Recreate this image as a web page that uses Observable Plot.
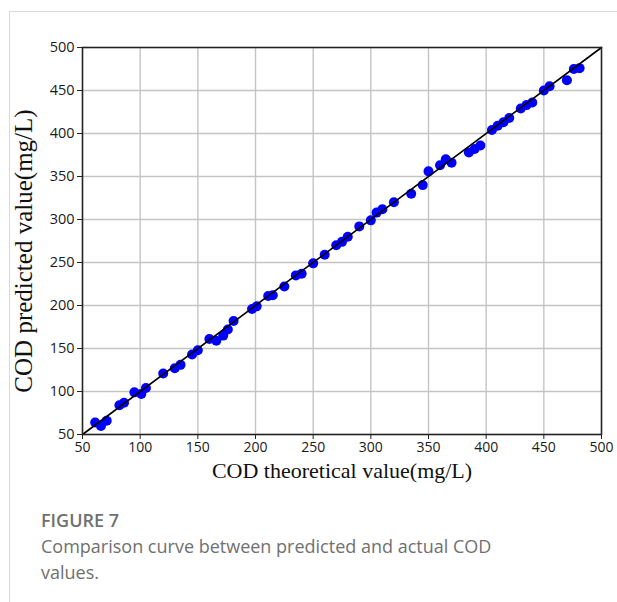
<!DOCTYPE html>
<html>
<head>
<meta charset="utf-8">
<script src="https://cdn.jsdelivr.net/npm/d3@7"></script>
<script src="https://cdn.jsdelivr.net/npm/@observablehq/plot@0.6"></script>
<style>
  html, body { margin: 0; padding: 0; background: #fff; }
  body { width: 617px; height: 602px; position: relative; overflow: hidden; }
  .card { position: absolute; left: 9px; top: 11px; right: 0; bottom: 0;
          border-left: 1px solid #d9d9d9; border-top: 1px solid #d9d9d9; z-index: 2; pointer-events: none; }
  #chart { position: absolute; left: 0; top: 0; z-index: 1; }
  .caption { position: absolute; left: 41px; top: 507px; width: 480px;
             font-family: "Open Sans", "Noto Sans", sans-serif; font-size: 18px;
             line-height: 26px; color: #707070; }
  .caption .fig { font-weight: 600; }
</style>
</head>
<body>
<div id="chart"></div>
<div class="card"></div>
<div class="caption">
  <div class="fig">FIGURE 7</div>
  <div>Comparison curve between predicted and actual COD values.</div>
</div>
<script>
const theoretical = [61,66,71,82,86,95,101,105,120,130,135,145,150,160,166,172,176,181,197,201,211,215,225,235,240,250,260,270,275,280,290,300,305,310,320,335,345,350,360,365,370,385,390,395,405,410,415,420,430,435,440,450,455,470,476,481];
const predicted   = [64,60,66,84,87,99,97,104,121,127,131,143,148,161,159,165,172,182,196,199,211,212,222,235,237,249,259,270,274,280,292,299,308,312,320,330,340,356,363,370,366,378,382,386,404,409,413,418,429,433,436,450,455,462,475,476];
const xTicks = [50,100,150,200,250,300,350,400,450,500];
const yTicks = [50,100,150,200,250,300,350,400,450,500];
const diagonal = [50, 500];
const xLabel = "COD theoretical value(mg/L)";
const yLabel = "COD predicted value(mg/L)";

const points = theoretical.map((t, i) => ({t, p: predicted[i]}));

const chart = Plot.plot({
  width: 617,
  height: 490,
  marginLeft: 82,
  marginRight: 16,
  marginTop: 47,
  marginBottom: 56,
  style: {background: "transparent", fontFamily: "'Open Sans', sans-serif", fontSize: "14px", color: "#1a1a1a"},
  x: {domain: [50, 500]},
  y: {domain: [50, 500]},
  marks: [
    Plot.gridX(xTicks, {stroke: "#c4c4c4", strokeOpacity: 1, strokeWidth: 1.4}),
    Plot.gridY(yTicks, {stroke: "#c4c4c4", strokeOpacity: 1, strokeWidth: 1.4}),
    Plot.dot(points, {x: "t", y: "p", r: 5, fill: "#0000ff", stroke: "none"}),
    Plot.line(diagonal, {x: d => d, y: d => d, stroke: "#000", strokeWidth: 1.6}),
    Plot.frame({stroke: "#222", strokeWidth: 1.5}),
    Plot.axisX(xTicks, {tickSize: 5, tickPadding: 3, label: null, fontSize: 14, stroke: "#222"}),
    Plot.axisY(yTicks, {tickSize: 5, tickPadding: 3, label: null, fontSize: 14.5, stroke: "#222"}),
    Plot.text([xLabel], {text: d => d, frameAnchor: "bottom", dy: 43, fontSize: 22,
      fontFamily: "'Liberation Serif', 'Times New Roman', serif", fill: "#111"}),
    Plot.text([yLabel], {text: d => d, frameAnchor: "left", textAnchor: "middle", dx: -59, dy: 10, rotate: -90, fontSize: 25,
      fontFamily: "'Liberation Serif', 'Times New Roman', serif", fill: "#111"})
  ]
});
document.getElementById("chart").appendChild(chart);
</script>
</body>
</html>
